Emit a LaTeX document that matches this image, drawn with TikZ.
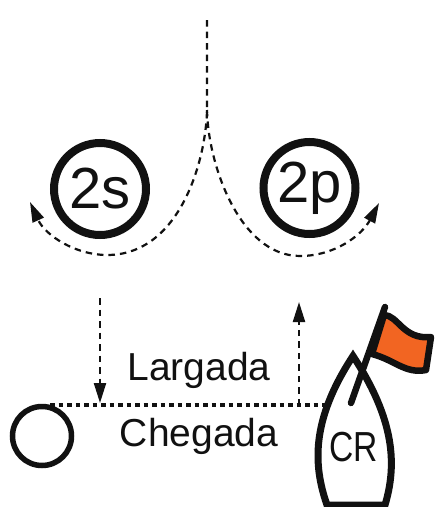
\documentclass[tikz,border=0pt]{standalone}
\usepackage{fontspec}
\setmainfont{Liberation Sans}
\usetikzlibrary{arrows.meta}
\definecolor{flagorange}{HTML}{F26522}
\definecolor{ink}{HTML}{111111}
\tikzset{
  ringnode/.style={circle,draw=ink,line width=8pt,minimum size=92pt,inner sep=0pt,font=\fontsize{58}{58}\selectfont,text=ink},
  marknode/.style={circle,draw=ink,line width=5.5pt,minimum size=59pt,inner sep=0pt},
  lbl/.style={inner sep=0pt,font=\fontsize{39}{39}\selectfont,text=ink},
  track/.style={draw=ink,line width=2.2pt,dash pattern=on 6.5pt off 5pt},
  trackhead/.style={-{Triangle[length=20pt,width=12pt]}},
  line/.style={draw=ink,line width=4.5pt,dash pattern=on 4.5pt off 4pt},
  hull/.style={draw=ink,line width=7pt,line join=miter,fill=white},
}
\begin{document}
\begin{tikzpicture}[x=1pt,y=-1pt]
\useasboundingbox (0,0) rectangle (435,507);
% circles
\node[ringnode] (s) at (100,189) {2s};
\node[ringnode] (p) at (309.5,188) {2p};
\node[marknode] (m) at (42,436) {};
% coordinates
\coordinate (top) at (207,20);
\coordinate (mid) at (207,110);
\coordinate (stip) at (30,202);
\coordinate (ptip) at (379,203);
\coordinate (lstart) at (100,298);
\coordinate (lend) at (100,403);
\coordinate (rstart) at (299,405);
\coordinate (rend) at (299,302);
\coordinate (boatl) at (325,405);
\coordinate (markr) at (50,405);
% tracks
\draw[track,trackhead] (top) -- (mid) .. controls (206,160) and (180,255) .. (107,255)
   .. controls (75,255) and (45,235) .. (stip);
\draw[track,trackhead] (mid) .. controls (208,165) and (240,256) .. (300,256)
   .. controls (335,256) and (362,235) .. (ptip);
\draw[track,trackhead] (lstart) -- (lend);
\draw[track,trackhead] (rstart) -- (rend);
\draw[line] (markr) -- (boatl);
% labels
\node[lbl] (lar) at (199,370) {Largada};
\node[lbl] (che) at (199,436) {Chegada};
% boat
\draw[hull] (327,505) .. controls (313,465) and (311,420) .. (353,356)
   .. controls (395,420) and (397,465) .. (385,505) -- cycle;
\draw[ink,line width=6.5pt,line cap=round] (351,403) -- (385,307);
\draw[draw=ink,line width=6.5pt,line join=round,fill=flagorange]
  (384,315) .. controls (398,315) and (403,340) .. (431,337)
  -- (426,370) .. controls (405,374) and (395,360) .. (372,354) -- cycle;
\node[inner sep=0pt,font=\fontsize{42}{42}\selectfont,text=ink] (cr) at (354,447) {\scalebox{.8}[1]{CR}};
\end{tikzpicture}
\end{document}
